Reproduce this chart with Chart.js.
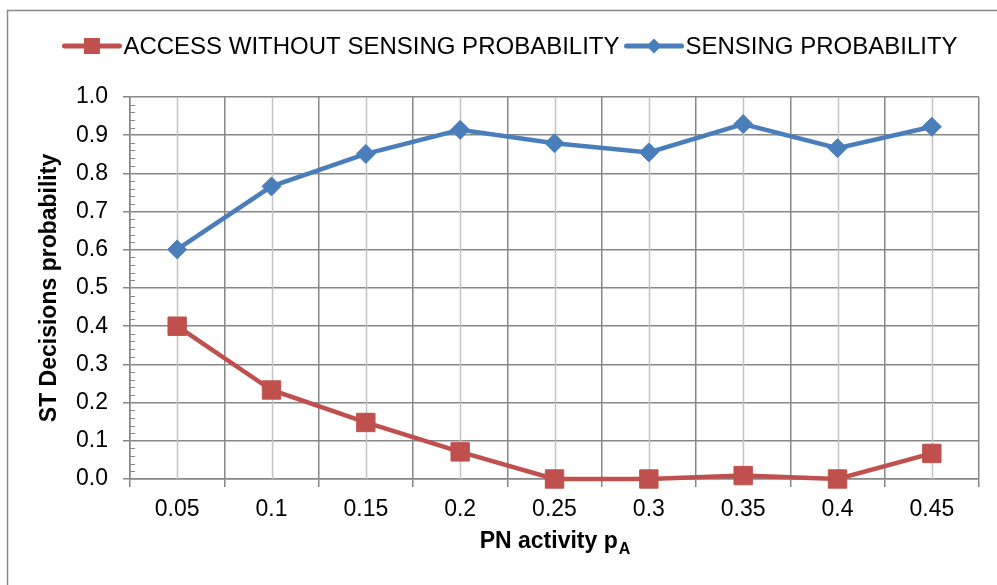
<!DOCTYPE html>
<html>
<head>
<meta charset="utf-8">
<title>ST Decisions probability</title>
<script src="https://cdn.jsdelivr.net/npm/chart.js@4.4.1/dist/chart.umd.min.js"></script>
<style>
  html, body { margin: 0; padding: 0; background: #fff; }
  #wrap { width: 997px; height: 585px; }
</style>
</head>
<body>
<div id="wrap"><canvas id="decisionsChart" width="997" height="585"></canvas></div>
<script>
// PN activity levels on the x axis
const activityLabels = ["0.05", "0.1", "0.15", "0.2", "0.25", "0.3", "0.35", "0.4", "0.45"];

// ST decision probabilities per activity level
const accessWithoutSensing = [0.40, 0.233, 0.148, 0.071, 0.0, 0.0, 0.009, 0.0, 0.067];
const sensingProbability = [0.601, 0.766, 0.851, 0.914, 0.879, 0.855, 0.929, 0.866, 0.922];

const FONT = "'Liberation Sans', Arial, sans-serif";
const RED = "#C0504D";
const BLUE = "#4A7EBB";
const GRID_MAJOR = "#878787";
const GRID_MINOR = "#C3C3C3";

// white page + grey frame around the whole chart
const framePlugin = {
  id: "frame",
  beforeDraw(chart) {
    const ctx = chart.ctx;
    ctx.save();
    ctx.fillStyle = "#fff";
    ctx.fillRect(0, 0, chart.width, chart.height);
    ctx.restore();
  },
  afterDraw(chart) {
    const ctx = chart.ctx;
    ctx.save();
    ctx.strokeStyle = "#8A8A8A";
    ctx.lineWidth = 1.5;
    ctx.strokeRect(7.5, 10.5, chart.width + 20, chart.height + 20);
    ctx.restore();
  }
};

// light gridlines through the category centres and small inner ticks on the y axis
const minorGridPlugin = {
  id: "minorGrid",
  beforeDatasetsDraw(chart) {
    const { ctx, chartArea: a, scales: { x, y } } = chart;
    ctx.save();
    ctx.strokeStyle = GRID_MINOR;
    ctx.lineWidth = 1.5;
    activityLabels.forEach((_, i) => {
      const px = Math.round(x.getPixelForValue(i)) + 0.5;
      ctx.beginPath();
      ctx.moveTo(px, a.top);
      ctx.lineTo(px, a.bottom);
      ctx.stroke();
    });
    ctx.strokeStyle = GRID_MAJOR;
    ctx.lineWidth = 1;
    for (let k = 1; k < 50; k++) {
      if (k % 5 === 0) continue;
      const py = Math.round(y.getPixelForValue(k * 0.02)) + 0.5;
      ctx.beginPath();
      ctx.moveTo(a.left, py);
      ctx.lineTo(a.left + 5, py);
      ctx.stroke();
    }
    ctx.restore();
  }
};

function drawMarker(ctx, style, cx, cy, r, color) {
  ctx.fillStyle = color;
  ctx.beginPath();
  if (style === "rect") {
    ctx.rect(cx - r, cy - r, 2 * r, 2 * r);
  } else {
    ctx.moveTo(cx - r, cy);
    ctx.lineTo(cx, cy - r);
    ctx.lineTo(cx + r, cy);
    ctx.lineTo(cx, cy + r);
    ctx.closePath();
  }
  ctx.fill();
}

// legend: line sample with marker in the middle, then the label
const lineLegendPlugin = {
  id: "lineLegend",
  afterDraw(chart) {
    const ctx = chart.ctx;
    const sets = chart.data.datasets;
    const sampleW = 55, gapText = 4, gapItem = 7, cy = 46, centerX = 511;
    ctx.save();
    ctx.font = "24px " + FONT;
    ctx.textBaseline = "middle";
    const widths = sets.map(ds => ctx.measureText(ds.label).width);
    let total = widths.reduce((s, w) => s + sampleW + gapText + w, 0) + gapItem * (sets.length - 1);
    let x = centerX - total / 2;
    sets.forEach((ds, i) => {
      ctx.strokeStyle = ds.borderColor;
      ctx.lineWidth = 5;
      ctx.lineCap = "round";
      ctx.beginPath();
      ctx.moveTo(x, cy);
      ctx.lineTo(x + sampleW, cy);
      ctx.stroke();
      drawMarker(ctx, ds.pointStyle, x + sampleW / 2, cy, ds.pointStyle === "rect" ? 8 : 7.5, ds.borderColor);
      ctx.fillStyle = "#000";
      ctx.fillText(ds.label, x + sampleW + gapText, cy + 1);
      x += sampleW + gapText + widths[i] + gapItem;
    });
    ctx.restore();
  }
};

// x axis title with subscripted A
const xTitlePlugin = {
  id: "xTitle",
  afterDraw(chart) {
    const { ctx, chartArea: a } = chart;
    const main = "PN activity p", sub = "A";
    ctx.save();
    ctx.fillStyle = "#000";
    ctx.textBaseline = "alphabetic";
    ctx.font = "bold 23px " + FONT;
    const wMain = ctx.measureText(main).width;
    ctx.font = "bold 16px " + FONT;
    const wSub = ctx.measureText(sub).width;
    let x = (a.left + a.right) / 2 - (wMain + wSub) / 2;
    const base = 548;
    ctx.font = "bold 23px " + FONT;
    ctx.fillText(main, x, base);
    ctx.font = "bold 16px " + FONT;
    ctx.fillText(sub, x + wMain + 1, base + 6);
    ctx.restore();
  }
};

new Chart(document.getElementById("decisionsChart"), {
  type: "line",
  data: {
    labels: activityLabels,
    datasets: [
      {
        label: "ACCESS WITHOUT SENSING PROBABILITY",
        data: accessWithoutSensing,
        borderColor: RED,
        backgroundColor: RED,
        borderWidth: 4.5,
        pointStyle: "rect",
        pointRadius: 13,
        pointBorderWidth: 1,
        tension: 0,
        clip: false
      },
      {
        label: "SENSING PROBABILITY",
        data: sensingProbability,
        borderColor: BLUE,
        backgroundColor: BLUE,
        borderWidth: 4.5,
        pointStyle: "rectRot",
        pointRadius: 9.5,
        pointBorderWidth: 1,
        tension: 0,
        clip: false
      }
    ]
  },
  options: {
    responsive: false,
    animation: false,
    devicePixelRatio: 1,
    layout: { padding: { top: 97, right: 18, left: 0, bottom: 0 } },
    plugins: {
      legend: { display: false },
      tooltip: { enabled: false }
    },
    scales: {
      x: {
        type: "category",
        offset: true,
        grid: { offset: true, color: GRID_MAJOR, lineWidth: 1.5, tickLength: 8 },
        border: { color: GRID_MAJOR, width: 1.5 },
        ticks: { color: "#000", font: { family: FONT, size: 23 }, padding: 9, maxRotation: 0 },
        afterFit(scale) { scale.height = 106; }
      },
      y: {
        min: 0,
        max: 1,
        ticks: {
          stepSize: 0.1,
          color: "#000",
          font: { family: FONT, size: 23 },
          padding: 15,
          callback: (v) => Number(v).toFixed(1)
        },
        grid: { color: GRID_MAJOR, lineWidth: 1.5, tickLength: 7 },
        border: { color: GRID_MAJOR, width: 1.5 },
        title: {
          display: true,
          text: "ST Decisions probability",
          color: "#000",
          font: { family: FONT, size: 23, weight: "bold" },
          padding: { top: 36, bottom: 0 }
        },
        afterFit(scale) { scale.width = 130; }
      }
    }
  },
  plugins: [framePlugin, minorGridPlugin, lineLegendPlugin, xTitlePlugin]
});
</script>
</body>
</html>
